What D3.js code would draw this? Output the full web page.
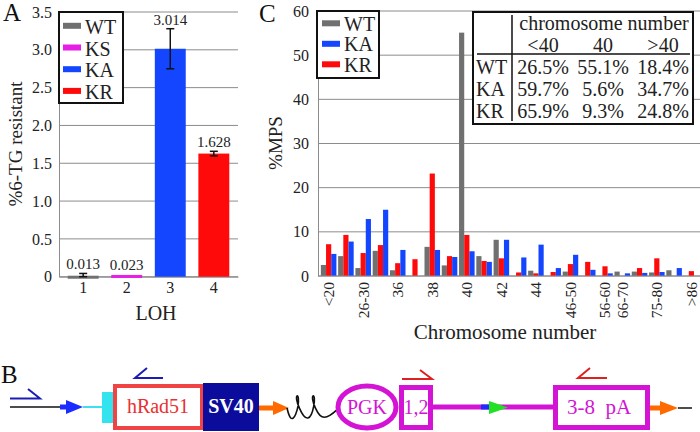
<!DOCTYPE html>
<html><head><meta charset="utf-8">
<script src="https://cdn.jsdelivr.net/npm/d3@7"></script>
<style>
body{margin:0;background:#fff;}
svg{display:block;font-family:"Liberation Serif","Times New Roman",serif;}
svg text{font-family:"Liberation Serif","Times New Roman",serif !important;}
</style></head><body>
<svg id="chart" width="700" height="432"></svg>
<script>
// ---------- Panel A data ----------
const aCategories = ['1','2','3','4'];
const aSeries = ['WT','KS','KA','KR'];
const aValues = [0.013, 0.023, 3.014, 1.628];
const aErrors = [0.03, 0.0, 0.265, 0.03];
const aYTicks = [0, 0.5, 1.0, 1.5, 2.0, 2.5, 3.0, 3.5];

// ---------- Panel C data ----------
const cCategories = ['<20','20-25','26-30','31-35','36','37','38','39','40','41','42','43','44','45','46-50','51-55','56-60','66-70','71-74','75-80','81-85','>86'];
const cTickLabels = ['<20','26-30','36','38','40','42','44','46-50','56-60','66-70','75-80','>86'];
const cSeries = ['WT','KR','KA'];          // bar order inside a group
const cLegend = ['WT','KA','KR'];          // legend order
const cWT = [2.5, 4.5, 1.8, 5.7, 1.3, 0, 6.6, 2.4, 55.1, 4.5, 8.2, 0, 1.2, 0, 1.0, 0, 0, 1.0, 1.0, 0.8, 1.3, 0];
const cKR = [7.2, 9.3, 5.2, 7.0, 2.9, 3.8, 23.2, 4.5, 9.3, 3.4, 4.0, 0.8, 0.6, 0.9, 2.7, 3.2, 2.2, 0, 1.8, 4.0, 0, 1.1];
const cKA = [5.0, 7.8, 12.9, 15.0, 5.9, 0, 5.9, 4.3, 5.6, 3.2, 8.2, 4.2, 7.1, 1.8, 4.8, 1.4, 0.6, 0.6, 0.7, 0.9, 1.8, 0];
const cYTicks = [0, 10, 20, 30, 40, 50, 60];

// ---------- Table data ----------
const tableHeader = 'chromosome number';
const tableCols = ['<40','40','>40'];
const tableRows = ['WT','KA','KR'];
const tableValues = [[26.5, 55.1, 18.4],[59.7, 5.6, 34.7],[65.9, 9.3, 24.8]];

// ---------- colours ----------
const colors = {WT:'#707070', KS:'#e61ee6', KA:'#1446ff', KR:'#ff0a0a'};
const grid = '#8c8c8c';
const FONT = '"Liberation Serif","Times New Roman",serif';

const svg = d3.select('#chart');
svg.append('rect').attr('width',700).attr('height',432).attr('fill','#fff');

function styleTicks(g, size){
  g.attr('font-family', null).attr('font-size', null);
  g.selectAll('text').style('font-family', FONT).style('font-size', size + 'px').attr('fill', '#222');
}

// ================= PANEL A =================
const A = {left:59, right:238, top:12, bottom:276.7};
const xA = d3.scaleBand().domain(aCategories).range([A.left, A.right]).paddingInner(0.29).paddingOuter(0.2);
const yA = d3.scaleLinear().domain([0, 3.5]).range([A.bottom, A.top]);
const gA = svg.append('g');

gA.append('g').selectAll('line').data(aYTicks).join('line')
  .attr('x1', A.left).attr('x2', A.right)
  .attr('y1', d => yA(d)).attr('y2', d => yA(d))
  .attr('stroke', grid).attr('stroke-width', 1);

gA.append('g').attr('transform', `translate(${A.left},0)`)
  .call(d3.axisLeft(yA).tickValues(aYTicks).tickFormat(d => d === 0 ? '0' : d3.format('.1f')(d)).tickSize(0).tickPadding(7))
  .call(g => { g.select('.domain').attr('stroke', grid); styleTicks(g, 16); });

gA.append('g').attr('transform', `translate(0,${A.bottom})`)
  .call(d3.axisBottom(xA).tickSize(0).tickPadding(5))
  .call(g => { g.select('.domain').attr('stroke', grid); styleTicks(g, 16); });

const aData = aCategories.map((c, i) => ({cat:c, s:aSeries[i], v:aValues[i], e:aErrors[i]}));
gA.append('g').selectAll('rect').data(aData).join('rect')
  .attr('x', d => xA(d.cat)).attr('width', xA.bandwidth())
  .attr('y', d => yA(d.v)).attr('height', d => Math.max(yA(0) - yA(d.v), 3))
  .attr('fill', d => colors[d.s]);

const eb = gA.append('g').selectAll('g').data(aData.filter(d => d.e > 0)).join('g')
  .attr('stroke', '#111').attr('stroke-width', 1.5);
eb.append('line').attr('x1', d => xA(d.cat) + xA.bandwidth()/2).attr('x2', d => xA(d.cat) + xA.bandwidth()/2)
  .attr('y1', d => yA(d.v + d.e)).attr('y2', d => yA(Math.max(0, d.v - d.e)));
eb.append('line').attr('x1', d => xA(d.cat) + xA.bandwidth()/2 - 4).attr('x2', d => xA(d.cat) + xA.bandwidth()/2 + 4)
  .attr('y1', d => yA(d.v + d.e)).attr('y2', d => yA(d.v + d.e));
eb.append('line').attr('x1', d => xA(d.cat) + xA.bandwidth()/2 - 4).attr('x2', d => xA(d.cat) + xA.bandwidth()/2 + 4)
  .attr('y1', d => yA(Math.max(0, d.v - d.e))).attr('y2', d => yA(Math.max(0, d.v - d.e)));

gA.append('g').selectAll('text').data(aData).join('text')
  .attr('x', d => xA(d.cat) + xA.bandwidth()/2)
  .attr('y', d => Math.min(yA(d.v + d.e), yA(0) - 3) - 4)
  .attr('text-anchor', 'middle').attr('font-size', 15).attr('fill', '#222')
  .text(d => d3.format('.3f')(d.v));

// legend A
const legA = gA.append('g');
legA.append('rect').attr('x', 59).attr('y', 12).attr('width', 64).attr('height', 91)
  .attr('fill', '#fff').attr('stroke', '#111').attr('stroke-width', 2);
legA.selectAll('g').data(aSeries).join('g')
  .attr('transform', (d, i) => `translate(0,${25.8 + i*21.7})`)
  .each(function(d){
    const g = d3.select(this);
    g.append('rect').attr('x', 63).attr('y', -3).attr('width', 18).attr('height', 6).attr('fill', colors[d]);
    g.append('text').attr('x', 85).attr('y', 8).attr('font-size', 20).attr('fill', '#222').text(d);
  });

svg.append('text').attr('transform', 'translate(22,144) rotate(-90)').attr('text-anchor', 'middle')
  .attr('font-size', 19).attr('fill', '#222').text('%6-TG resistant');
svg.append('text').attr('x', 156).attr('y', 320).attr('text-anchor', 'middle')
  .attr('font-size', 20).attr('fill', '#222').text('LOH');
svg.append('text').attr('x', 3).attr('y', 21).attr('font-size', 25).attr('fill', '#111').text('A');

// ================= PANEL C =================
const C = {left:318, right:700, top:11, bottom:276};
const xC = d3.scaleBand().domain(cCategories).range([320, 700]).paddingInner(0.1).paddingOuter(0.05);
const xSub = d3.scaleBand().domain(cSeries).range([0, xC.bandwidth()]);
const yC = d3.scaleLinear().domain([0, 60]).range([C.bottom, C.top]);
const gC = svg.append('g');

gC.append('g').selectAll('line').data(cYTicks).join('line')
  .attr('x1', C.left).attr('x2', C.right)
  .attr('y1', d => yC(d)).attr('y2', d => yC(d))
  .attr('stroke', grid).attr('stroke-width', 1);

gC.append('g').attr('transform', `translate(${C.left},0)`)
  .call(d3.axisLeft(yC).tickValues(cYTicks).tickSize(0).tickPadding(9))
  .call(g => { g.select('.domain').attr('stroke', grid); styleTicks(g, 16); });

const cSeriesVals = {WT:cWT, KR:cKR, KA:cKA};
const cData = [];
cCategories.forEach((c, i) => cSeries.forEach(s => cData.push({cat:c, s, v:cSeriesVals[s][i]})));
gC.append('g').selectAll('rect').data(cData.filter(d => d.v > 0)).join('rect')
  .attr('x', d => xC(d.cat) + xSub(d.s)).attr('width', xSub.bandwidth())
  .attr('y', d => yC(d.v)).attr('height', d => yC(0) - yC(d.v))
  .attr('fill', d => colors[d.s]);

gC.append('g').attr('transform', `translate(0,${C.bottom})`)
  .call(d3.axisBottom(xC).tickSize(0).tickFormat(d => cTickLabels.includes(d) ? d : ''))
  .call(g => { g.select('.domain').attr('stroke', grid).attr('d', `M${C.left},0H${C.right}`);
    styleTicks(g, 15.5);
    g.selectAll('text')
      .attr('transform', 'rotate(-90)').attr('text-anchor', 'end').attr('x', -6).attr('y', 0).attr('dy', '0.35em'); });

svg.append('text').attr('x', 505).attr('y', 339).attr('text-anchor', 'middle')
  .attr('font-size', 21).attr('fill', '#222').text('Chromosome number');
svg.append('text').attr('transform', 'translate(282,143) rotate(-90)').attr('text-anchor', 'middle')
  .attr('font-size', 19).attr('fill', '#222').text('%MPS');
svg.append('text').attr('x', 259).attr('y', 22).attr('font-size', 25).attr('fill', '#111').text('C');

// legend C
const legC = gC.append('g');
legC.append('rect').attr('x', 317).attr('y', 11).attr('width', 62).attr('height', 67)
  .attr('fill', '#fff').attr('stroke', '#111').attr('stroke-width', 2);
legC.selectAll('g').data(cLegend).join('g')
  .attr('transform', (d, i) => `translate(0,${23.3 + i*20.5})`)
  .each(function(d){
    const g = d3.select(this);
    g.append('rect').attr('x', 322).attr('y', -3).attr('width', 18).attr('height', 6).attr('fill', colors[d]);
    g.append('text').attr('x', 344).attr('y', 7.5).attr('font-size', 20).attr('fill', '#222').text(d);
  });

// table
const tb = gC.append('g').attr('fill', '#222').attr('font-size', 20);
tb.append('rect').attr('x', 473).attr('y', 12).attr('width', 220).attr('height', 112)
  .attr('fill', '#fff').attr('stroke', '#111').attr('stroke-width', 2);
tb.append('line').attr('x1', 512).attr('x2', 512).attr('y1', 15).attr('y2', 121).attr('stroke', '#111').attr('stroke-width', 1.5);
tb.append('line').attr('x1', 477).attr('x2', 690).attr('y1', 54).attr('y2', 54).attr('stroke', '#111').attr('stroke-width', 1.5);
const colX = [543, 603, 663];
tb.append('text').attr('x', 604).attr('y', 30).attr('text-anchor', 'middle').text(tableHeader);
tb.selectAll('text.col').data(tableCols).join('text').attr('class', 'col')
  .attr('x', (d, i) => colX[i]).attr('y', 52).attr('text-anchor', 'middle').text(d => d);
tableRows.forEach((r, ri) => {
  const y = 74 + ri*22.2;
  tb.append('text').attr('x', 476).attr('y', y).text(r);
  tb.selectAll(null).data(tableValues[ri]).join('text')
    .attr('x', (d, i) => colX[i]).attr('y', y).attr('text-anchor', 'middle')
    .text(d => d3.format('.1f')(d) + '%');
});

// ================= PANEL B (diagram) =================
const gB = svg.append('g');
const magenta = '#d414d4';
gB.append('text').attr('x', 1).attr('y', 383).attr('font-size', 25).attr('fill', '#111').text('B');
// primers
const primer = (d, col) => gB.append('path').attr('d', d).attr('fill', 'none').attr('stroke', col).attr('stroke-width', 2);
primer('M10,398.5H40L28,389', '#1c1cb4');
primer('M163,378H135L147,368', '#1c1cb4');
primer('M402,379H432L420,370', '#e02020');
primer('M607,378H578L590,368', '#e02020');
// left black line + blue arrow + cyan
gB.append('line').attr('x1', 10).attr('x2', 62).attr('y1', 407).attr('y2', 407).attr('stroke', '#111').attr('stroke-width', 1.5);
gB.append('rect').attr('x', 60).attr('y', 404.5).attr('width', 8).attr('height', 5).attr('fill', '#1a2cff');
gB.append('path').attr('d', 'M66,400L83,407L66,414Z').attr('fill', '#1a2cff');
gB.append('line').attr('x1', 83).attr('x2', 102).attr('y1', 407).attr('y2', 407).attr('stroke', '#3ee0f0').attr('stroke-width', 2);
gB.append('rect').attr('x', 102).attr('y', 392).attr('width', 12).attr('height', 31).attr('fill', '#33e3ee');
// hRad51 box
gB.append('rect').attr('x', 115).attr('y', 386).attr('width', 87).attr('height', 42)
  .attr('fill', '#fff').attr('stroke', '#f04444').attr('stroke-width', 4);
gB.append('text').attr('x', 158).attr('y', 413).attr('text-anchor', 'middle').attr('font-size', 20)
  .attr('fill', '#e83030').text('hRad51');
// SV40
gB.append('rect').attr('x', 203).attr('y', 383).attr('width', 56).attr('height', 48).attr('fill', '#0c0c9c');
gB.append('text').attr('x', 231).attr('y', 413).attr('text-anchor', 'middle').attr('font-size', 20)
  .attr('font-weight', 'bold').attr('fill', '#fff').text('SV40');
// orange arrow 1
gB.append('rect').attr('x', 259).attr('y', 405.5).attr('width', 16).attr('height', 5).attr('fill', '#ff6a00');
gB.append('path').attr('d', 'M273,401L289,408L273,415Z').attr('fill', '#ff6a00');
// wave (looped)
gB.append('path').attr('d', d3.line().curve(d3.curveBasis)([[287,408],[290,420],[296,418],[300,394],[294,396],[304,420],[312,418],[316,394],[310,396],[320,420],[330,416],[339,408]]))
  .attr('fill', 'none').attr('stroke', '#111').attr('stroke-width', 1.6);
// PGK ellipse
gB.append('ellipse').attr('cx', 367).attr('cy', 407).attr('rx', 29).attr('ry', 21)
  .attr('fill', '#fff').attr('stroke', magenta).attr('stroke-width', 5);
gB.append('text').attr('x', 367).attr('y', 414).attr('text-anchor', 'middle').attr('font-size', 20)
  .attr('fill', magenta).text('PGK');
// 1,2 box
gB.append('rect').attr('x', 401.5).attr('y', 387.5).attr('width', 29).attr('height', 40)
  .attr('fill', '#fff').attr('stroke', magenta).attr('stroke-width', 5);
gB.append('text').attr('x', 416).attr('y', 414).attr('text-anchor', 'middle').attr('font-size', 20)
  .attr('fill', magenta).text('1,2');
// magenta line with blue + green
gB.append('line').attr('x1', 433).attr('x2', 553).attr('y1', 407).attr('y2', 407).attr('stroke', magenta).attr('stroke-width', 5);
gB.append('rect').attr('x', 481).attr('y', 404.5).attr('width', 9).attr('height', 5).attr('fill', '#1a2cff');
gB.append('path').attr('d', 'M489,401L508,407.5L489,414Z').attr('fill', '#22e022');
// 3-8 pA box
gB.append('rect').attr('x', 555.5).attr('y', 387.5).attr('width', 92).attr('height', 40)
  .attr('fill', '#fff').attr('stroke', magenta).attr('stroke-width', 5);
gB.append('text').attr('x', 599).attr('y', 414).attr('text-anchor', 'middle').attr('font-size', 21)
  .attr('fill', magenta).text('3-8\u00a0\u00a0pA');
// orange arrow 2 + black tail
gB.append('rect').attr('x', 650).attr('y', 405.5).attr('width', 12).attr('height', 5).attr('fill', '#ff6a00');
gB.append('path').attr('d', 'M660,401L678,408L660,415Z').attr('fill', '#ff6a00');
gB.append('line').attr('x1', 678).attr('x2', 692).attr('y1', 408).attr('y2', 408).attr('stroke', '#111').attr('stroke-width', 1.5);
</script></body></html>
